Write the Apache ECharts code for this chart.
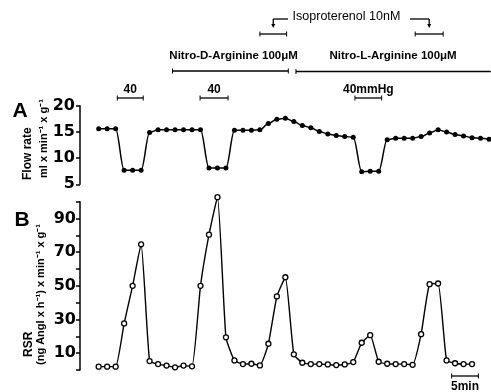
<!DOCTYPE html>
<html>
<head>
<meta charset="utf-8">
<script src="https://cdn.jsdelivr.net/npm/echarts@6/dist/echarts.min.js"></script>
<style>
  html, body { margin: 0; padding: 0; background: #fff; }
  #main { width: 491px; height: 392px; }
</style>
</head>
<body>
<div id="main"></div>
<script>
// x = sample number along the time axis (same for both panels)
const flowRate = [15.6, 15.6, 15.6, 7.7, 7.7, 7.7, 14.9, 15.4, 15.4, 15.4, 15.4, 15.4, 15.4,
  8.1, 8.1, 8.1, 15.3, 15.3, 15.3, 15.4, 16.6, 17.4, 17.6, 17.0, 16.2, 15.8, 15.1, 14.6, 14.3, 14.1, 14.0,
  7.4, 7.5, 7.5, 13.5, 13.8, 13.8, 13.8, 14.1, 14.8, 15.4, 15.0, 14.5, 14.2, 13.9, 13.8, 13.6];
const rsr = [2, 2, 2, 27.7, 50, 74.7, 5.3, 3.5, 2.6, 1.6, 2.6, 2.2,
  50, 80.4, 102.7, 19.4, 5.7, 3.5, 3.7, 2.7, 15.6, 43.7, 55.1, 9.3, 4.3, 3.5, 3.5, 3.3, 2.9, 3.3, 4.7,
  16.2, 20.7, 4.9, 3.7, 3.5, 3.5, 3.1, 21.3, 51, 51.4, 5.7, 4, 3.5, 3.5];
const flowTicks = [5, 10, 15, 20];
const rsrTickLabels = [10, 30, 50, 70, 90];

// annotations, in sample units
const pressureBars = [[2.2, 5.25], [11.95, 15.25], [30.2, 33.35]];
const pressureLabels = ['40', '40', '40mmHg'];
const drugBars = [[8.7, 22.35], [23.25, 46.2]];
const drugLabels = ['Nitro-D-Arginine 100\u03bcM', 'Nitro-L-Arginine 100\u03bcM'];
const drugLabelAt = [15.9, 34.7];
const isoBars = [[19.0, 22.15], [37.3, 40.6]];
const isoLabel = 'Isoproterenol 10nM';
const isoLabelAt = 29.2;
const scaleBar = [41.6, 44.75];
const scaleLabel = '5min';

const chart = echarts.init(document.getElementById('main'));
const FONT = 'Liberation Sans';

const yAxisBase = {
  axisLine: { show: true, onZero: false, lineStyle: { color: '#000', width: 1.5 } },
  axisTick: { show: true, length: 4, lineStyle: { color: '#000', width: 1.5 } },
  splitLine: { show: false },
  axisLabel: { color: '#000', fontSize: 16, fontWeight: 'bold', fontFamily: 'DejaVu Sans', margin: 5 }
};

chart.setOption({
  animation: false,
  grid: [
    { left: 80, right: 2, top: 105.7, height: 78.6 },
    { left: 80, right: 2, top: 201.7, height: 168.3 }
  ],
  xAxis: [
    { type: 'value', gridIndex: 0, min: -2.2, max: 46, show: false },
    { type: 'value', gridIndex: 1, min: -2.2, max: 46, show: false }
  ],
  yAxis: [
    Object.assign({}, yAxisBase, {
      type: 'value', gridIndex: 0, min: flowTicks[0], max: flowTicks[flowTicks.length - 1], interval: 5
    }),
    Object.assign({}, yAxisBase, {
      type: 'value', gridIndex: 1, min: 0, max: 100, interval: 10,
      axisLabel: Object.assign({}, yAxisBase.axisLabel, {
        margin: 4,
        formatter: v => (rsrTickLabels.indexOf(v) >= 0 ? String(v) : '')
      })
    })
  ],
  series: [
    {
      type: 'line', xAxisIndex: 0, yAxisIndex: 0,
      data: flowRate.map((v, i) => [i, v]),
      symbol: 'circle', symbolSize: 5,
      itemStyle: { color: '#000' },
      lineStyle: { color: '#000', width: 1.5 },
      smooth: 0.35, smoothMonotone: 'x', clip: false
    },
    {
      type: 'line', xAxisIndex: 1, yAxisIndex: 1,
      data: rsr.map((v, i) => [i, v]),
      symbol: 'circle', symbolSize: 5,
      itemStyle: { color: '#fff', borderColor: '#000', borderWidth: 1.3 },
      lineStyle: { color: '#000', width: 1.4 },
      smooth: 0.15, clip: false
    }
  ]
});

const px = i => chart.convertToPixel({ xAxisIndex: 0 }, i);
const els = [];
function seg(x1, y1, x2, y2, w) {
  els.push({ type: 'line', shape: { x1, y1, x2, y2 }, style: { stroke: '#000', lineWidth: w || 1.3 } });
}
function bar(r, y, rightTick) {
  const a = px(r[0]), b = px(r[1]);
  seg(a, y, b, y);
  seg(a, y - 2.5, a, y + 2.5, 1);
  if (rightTick !== false) seg(b, y - 2.5, b, y + 2.5, 1);
}
function text(t, x, y, size, weight, align) {
  els.push({
    type: 'text', x, y,
    style: { text: t, fill: '#000', fontSize: size, fontWeight: weight || 'normal', fontFamily: FONT,
      align: align || 'center', verticalAlign: 'middle' }
  });
}
function vtext(t, x, y, size) {
  els.push({
    type: 'text', x, y, rotation: Math.PI / 2,
    style: { text: t, fill: '#000', fontSize: size, fontWeight: 'bold', fontFamily: FONT,
      align: 'left', verticalAlign: 'middle' }
  });
}

// pressure steps
pressureBars.forEach((r, k) => {
  bar(r, 98);
  text(pressureLabels[k], (px(r[0]) + px(r[1])) / 2, 90, 12, 'bold');
});
// drugs
bar(drugBars[0], 71);
bar(drugBars[1], 71.5, false);
drugLabels.forEach((t, k) => text(t, px(drugLabelAt[k]), 56, 11.5, 'bold'));
// isoproterenol
isoBars.forEach(r => bar(r, 34));
text(isoLabel, px(isoLabelAt), 17, 12.5, 'normal');
const isoL = (px(isoBars[0][0]) + px(isoBars[0][1])) / 2;
const isoR = (px(isoBars[1][0]) + px(isoBars[1][1])) / 2;
seg(isoL, 19, 288, 19); seg(isoL, 19, isoL, 26);
seg(410, 19, isoR, 19); seg(isoR, 19, isoR, 26);
[isoL, isoR].forEach(x => els.push({
  type: 'polygon', shape: { points: [[x - 2, 24], [x + 2, 24], [x, 28]] }, style: { fill: '#000' }
}));
// time scale
bar(scaleBar, 376);
text(scaleLabel, (px(scaleBar[0]) + px(scaleBar[1])) / 2, 387, 12, 'bold');

// panel letters and axis titles
text('A', 20, 111, 21, 'bold');
text('B', 22, 220, 21, 'bold');
vtext('Flow rate', 27.5, 180, 12);
vtext('ml x min\u207b\u00b9 x g\u207b\u00b9', 43.5, 178, 11);
vtext('RSR', 29, 357, 12);
vtext('(ng AngI x h\u207b\u00b9) x min\u207b\u00b9 x g\u207b\u00b9', 41, 365, 11);

chart.setOption({ graphic: { elements: els } });
</script>
</body>
</html>
